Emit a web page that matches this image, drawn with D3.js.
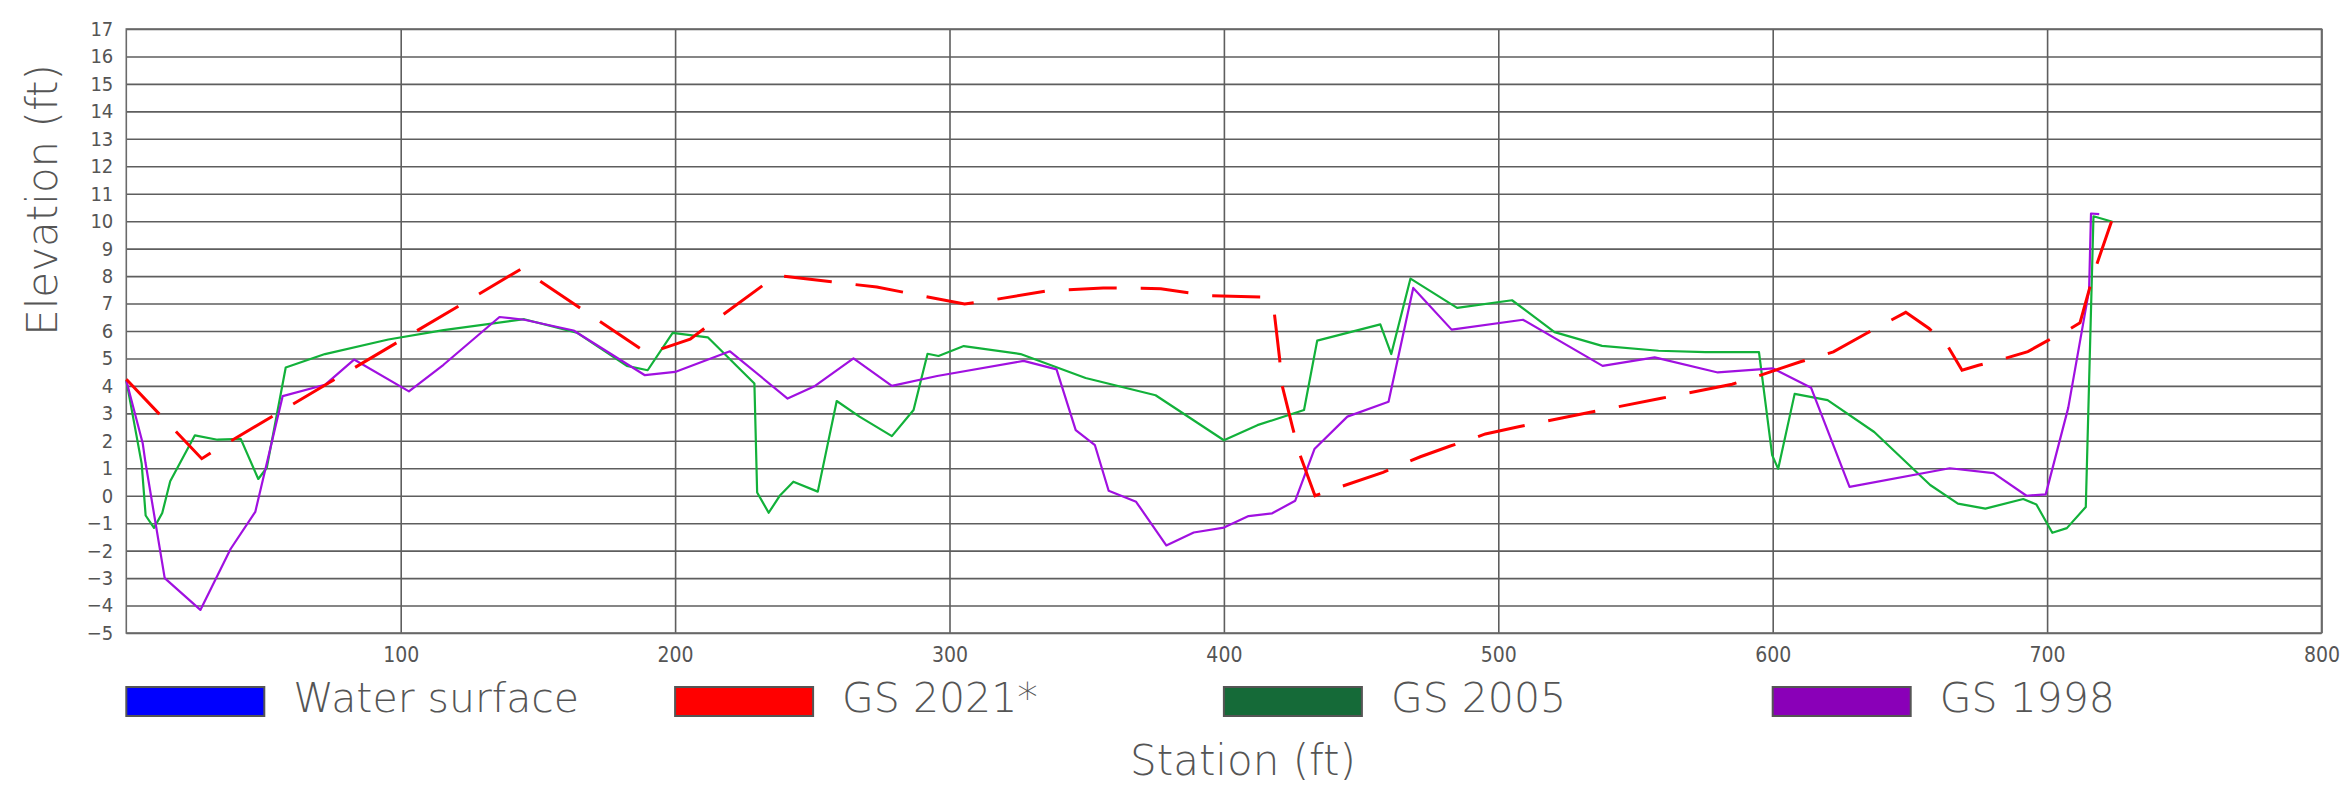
<!DOCTYPE html>
<html>
<head>
<meta charset="utf-8">
<script src="https://cdnjs.cloudflare.com/ajax/libs/d3/7.8.5/d3.min.js"></script>
<style>
body { margin: 0; background: #fff; }
svg text { font-family: "DejaVu Sans", sans-serif; fill: #555; }
</style>
</head>
<body>
<svg id="chart" width="2351" height="787"></svg>
<script>
// station (ft) / elevation (ft)
var st2021 = [0, 27.5, 31.1, 144.1, 190, 205.5, 210.9, 232, 239.5, 257, 273.5, 291.1, 305.5, 317.4, 335, 356, 370, 377, 387, 395.7, 413.4, 418.2, 420.3, 421, 425, 427.3, 433.2, 441.5, 458, 471.6, 482.5, 490.8, 495.3, 507.8, 533.5, 559.4, 585.2, 593.1, 610.1, 618.3, 622.1, 634.1, 648.5, 657, 663.5, 669, 675, 683.5, 693, 700, 707.5, 712, 715.3, 717.7, 723.5];
var el2021 = [4.24, 1.35, 1.58, 8.27, 5.18, 5.70, 6.11, 7.66, 8.0, 7.79, 7.6, 7.26, 6.98, 7.16, 7.45, 7.57, 7.56, 7.54, 7.39, 7.28, 7.24, 6.8, 5.0, 4.1, 2.5, 1.6, 0.0, 0.29, 0.85, 1.42, 1.81, 2.08, 2.25, 2.52, 3.04, 3.55, 4.06, 4.31, 4.88, 5.12, 5.24, 5.91, 6.68, 6.09, 5.5, 4.57, 4.75, 4.97, 5.25, 5.64, 6.03, 6.30, 7.49, 8.31, 10.0];

var st2005 = [0, 5.6, 7.05, 10.1, 13.1, 16, 25, 33.2, 41.7, 48.1, 51.2, 58.1, 72.4, 95.5, 115.6, 145, 164.2, 182.4, 190, 199.1, 211.9, 228.9, 229.9, 234.1, 238.3, 243.1, 252, 258.9, 267.2, 279, 286.9, 292, 296, 305.2, 325.9, 349.6, 375.1, 400, 412.2, 429.2, 434, 457, 461, 468, 485, 505, 520.5, 537.8, 558.4, 575.5, 595, 599.8, 602, 608, 620, 637, 657.4, 667.5, 677.5, 691.3, 696.1, 701.9, 707.2, 714.1, 716.9, 723.8];
var el2005 = [4.2, 1.17, -0.72, -1.17, -0.63, 0.53, 2.2, 2.04, 2.07, 0.61, 1.02, 4.67, 5.16, 5.69, 6.03, 6.43, 5.94, 4.73, 4.57, 5.93, 5.77, 4.09, 0.12, -0.62, 0.02, 0.51, 0.15, 3.45, 2.88, 2.17, 3.12, 5.17, 5.09, 5.45, 5.16, 4.29, 3.66, 2.02, 2.57, 3.12, 5.65, 6.24, 5.16, 7.91, 6.84, 7.12, 5.96, 5.46, 5.28, 5.23, 5.23, 1.48, 0.98, 3.71, 3.48, 2.32, 0.39, -0.29, -0.47, -0.12, -0.32, -1.35, -1.18, -0.41, 10.18, 9.98];

var st1998 = [0, 6, 7, 14, 27, 38, 47, 57, 72.4, 83, 103, 115.6, 136, 145, 163, 189, 200, 220, 241, 251, 265, 279, 295.5, 327, 339, 346, 353, 358, 368, 379, 389, 400, 409, 417.6, 426, 433, 445, 460, 469, 483, 509, 538, 557, 580, 600, 614, 628, 664.5, 680.5, 692.5, 699.5, 707.7, 715.3, 716, 719];
var el1998 = [4.2, 1.9, 1.2, -3.0, -4.16, -1.94, -0.59, 3.63, 4.04, 4.96, 3.8, 4.77, 6.51, 6.41, 6.02, 4.39, 4.51, 5.26, 3.54, 4.0, 5.0, 4.0, 4.36, 4.91, 4.6, 2.39, 1.84, 0.18, -0.22, -1.81, -1.34, -1.16, -0.74, -0.64, -0.18, 1.70, 2.88, 3.42, 7.57, 6.05, 6.41, 4.73, 5.04, 4.49, 4.64, 3.93, 0.32, 1.0, 0.82, 0.0, 0.05, 3.2, 7.49, 10.28, 10.26];

var legendNames = ["Water surface", "GS 2021*", "GS 2005", "GS 1998"];
var legendColors = ["#0000ff", "#ff0000", "#156a38", "#8a00b8"];

var xTicks = [100, 200, 300, 400, 500, 600, 700, 800];
var yTicks = [-5, -4, -3, -2, -1, 0, 1, 2, 3, 4, 5, 6, 7, 8, 9, 10, 11, 12, 13, 14, 15, 16, 17];

var svg = d3.select("#chart"),
	plotLeft = 126.3, plotRight = 2321.5, plotTop = 29, plotBottom = 633,
	width = plotRight - plotLeft, height = plotBottom - plotTop;

var x = d3.scaleLinear().domain([0, 800]).range([plotLeft, plotRight]),
	y = d3.scaleLinear().domain([-5, 17]).range([plotBottom, plotTop]);

// horizontal grid + y labels
var gy = svg.append("g")
	.attr("transform", "translate(" + plotLeft + ",0)")
	.call(d3.axisLeft(y).tickValues(yTicks).tickSize(-width).tickPadding(13));
gy.select(".domain").remove();
gy.selectAll(".tick line").attr("stroke", "#5e5e5e").attr("stroke-width", 1.6);
gy.selectAll(".tick text")
	.style("font-family", "'DejaVu Sans Condensed', 'DejaVu Sans', sans-serif")
	.style("font-size", "20px").attr("fill", "#555");

// vertical grid + x labels
var gx = svg.append("g")
	.attr("transform", "translate(0," + plotBottom + ")")
	.call(d3.axisBottom(x).tickValues(xTicks).tickSize(-height).tickPadding(14));
gx.select(".domain").remove();
gx.selectAll(".tick line").attr("stroke", "#5e5e5e").attr("stroke-width", 1.6);
gx.selectAll(".tick text")
	.style("font-family", "'DejaVu Sans Condensed', 'DejaVu Sans', sans-serif")
	.style("font-size", "21px").attr("fill", "#555");

// frame
svg.append("rect")
	.attr("x", plotLeft).attr("y", plotTop)
	.attr("width", width).attr("height", height)
	.attr("fill", "none").attr("stroke", "#6a6a6a").attr("stroke-width", 1.6);

var line = d3.line()
	.x(function(d) { return x(d[0]); })
	.y(function(d) { return y(d[1]); });

function pairs(s, e) {
	return s.map(function(v, i) { return [v, e[i]]; });
}

svg.append("path").datum(pairs(st2005, el2005))
	.attr("d", line).attr("fill", "none")
	.attr("stroke", "#12b13a").attr("stroke-width", 2.2).attr("stroke-linejoin", "round");

svg.append("path").datum(pairs(st1998, el1998))
	.attr("d", line).attr("fill", "none")
	.attr("stroke", "#a010e0").attr("stroke-width", 2.2).attr("stroke-linejoin", "round");

svg.append("path").datum(pairs(st2021, el2021))
	.attr("d", line).attr("fill", "none")
	.attr("stroke", "#ff0000").attr("stroke-width", 3)
	.attr("stroke-dasharray", "48,24");

// legend: one entry every 200 ft of station
var lg = svg.selectAll(".legend")
	.data(legendNames)
	.enter().append("g")
	.attr("class", "legend")
	.attr("transform", function(d, i) { return "translate(" + x(i * 200) + ",687)"; });

lg.append("rect")
	.attr("width", 138).attr("height", 29)
	.attr("fill", function(d, i) { return legendColors[i]; })
	.attr("stroke", "#555").attr("stroke-width", 2);

lg.append("text")
	.attr("x", 167).attr("y", 25)
	.style("font-size", "41px")
	.style("font-weight", "200")
	.text(function(d) { return d; });

// axis titles
svg.append("text")
	.attr("x", 1243).attr("y", 775)
	.attr("text-anchor", "middle")
	.style("font-size", "42px").style("font-weight", "200")
	.text("Station (ft)");

svg.append("text")
	.attr("transform", "translate(57,200) rotate(-90)")
	.attr("text-anchor", "middle")
	.style("font-size", "42px").style("font-weight", "200")
	.text("Elevation (ft)");
</script>
</body>
</html>
